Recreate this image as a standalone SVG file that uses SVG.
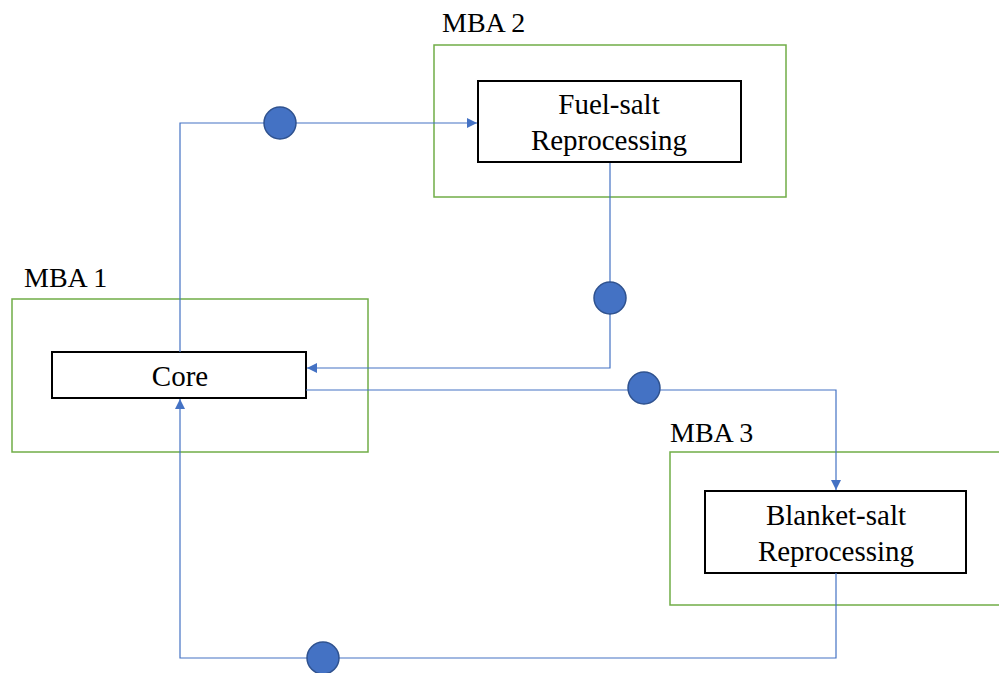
<svg xmlns="http://www.w3.org/2000/svg" width="999" height="673" viewBox="0 0 999 673">
<defs>
<style>
.mba{fill:none;stroke:#70AD47;stroke-width:1.5}
.box{fill:#fff;stroke:#000;stroke-width:2}
.lbl{font-family:"Liberation Serif",serif;font-size:28px;fill:#000}
.txt{font-family:"Liberation Serif",serif;font-size:29px;fill:#000;text-anchor:middle}
.ln{fill:none;stroke:#4472C4;stroke-width:1.2}
.dot{fill:#4472C4;stroke:#2F528F;stroke-width:1.5}
</style>
<marker id="ah" viewBox="0 0 10 10" refX="10" refY="5" markerWidth="10" markerHeight="10" markerUnits="userSpaceOnUse" orient="auto">
<path d="M0,0 L10,5 L0,10 z" fill="#4472C4"/>
</marker>
</defs>
<rect width="999" height="673" fill="#fff"/>
<g id="mba1">
<rect class="mba" x="12" y="299" width="356" height="153"/>
<text class="lbl" x="24" y="287">MBA 1</text>
</g>
<g id="mba2">
<rect class="mba" x="434" y="45" width="352" height="152"/>
<text class="lbl" x="442" y="32">MBA 2</text>
</g>
<g id="mba3">
<rect class="mba" x="670" y="452" width="340" height="153"/>
<text class="lbl" x="670" y="442">MBA 3</text>
</g>
<g id="core">
<rect class="box" x="52" y="352" width="254" height="46"/>
<text class="txt" x="180" y="386">Core</text>
</g>
<g id="fuel">
<rect class="box" x="478" y="81" width="263" height="81"/>
<text class="txt" x="609" y="114">Fuel-salt</text>
<text class="txt" x="609" y="150">Reprocessing</text>
</g>
<g id="blanket">
<rect class="box" x="705" y="491" width="261" height="82"/>
<text class="txt" x="836" y="525">Blanket-salt</text>
<text class="txt" x="836" y="561">Reprocessing</text>
</g>
<g id="connectors">
<polyline class="ln" points="180,352 180,123 477,123" marker-end="url(#ah)"/>
<polyline class="ln" points="610,163 610,368 307,368" marker-end="url(#ah)"/>
<polyline class="ln" points="306,390 836,390 836,490" marker-end="url(#ah)"/>
<polyline class="ln" points="836,573 836,658 180,658 180,399" marker-end="url(#ah)"/>
<circle class="dot" cx="280" cy="123" r="16"/>
<circle class="dot" cx="610" cy="298" r="16"/>
<circle class="dot" cx="644" cy="388" r="16"/>
<circle class="dot" cx="323" cy="658" r="16"/>
</g>
</svg>
